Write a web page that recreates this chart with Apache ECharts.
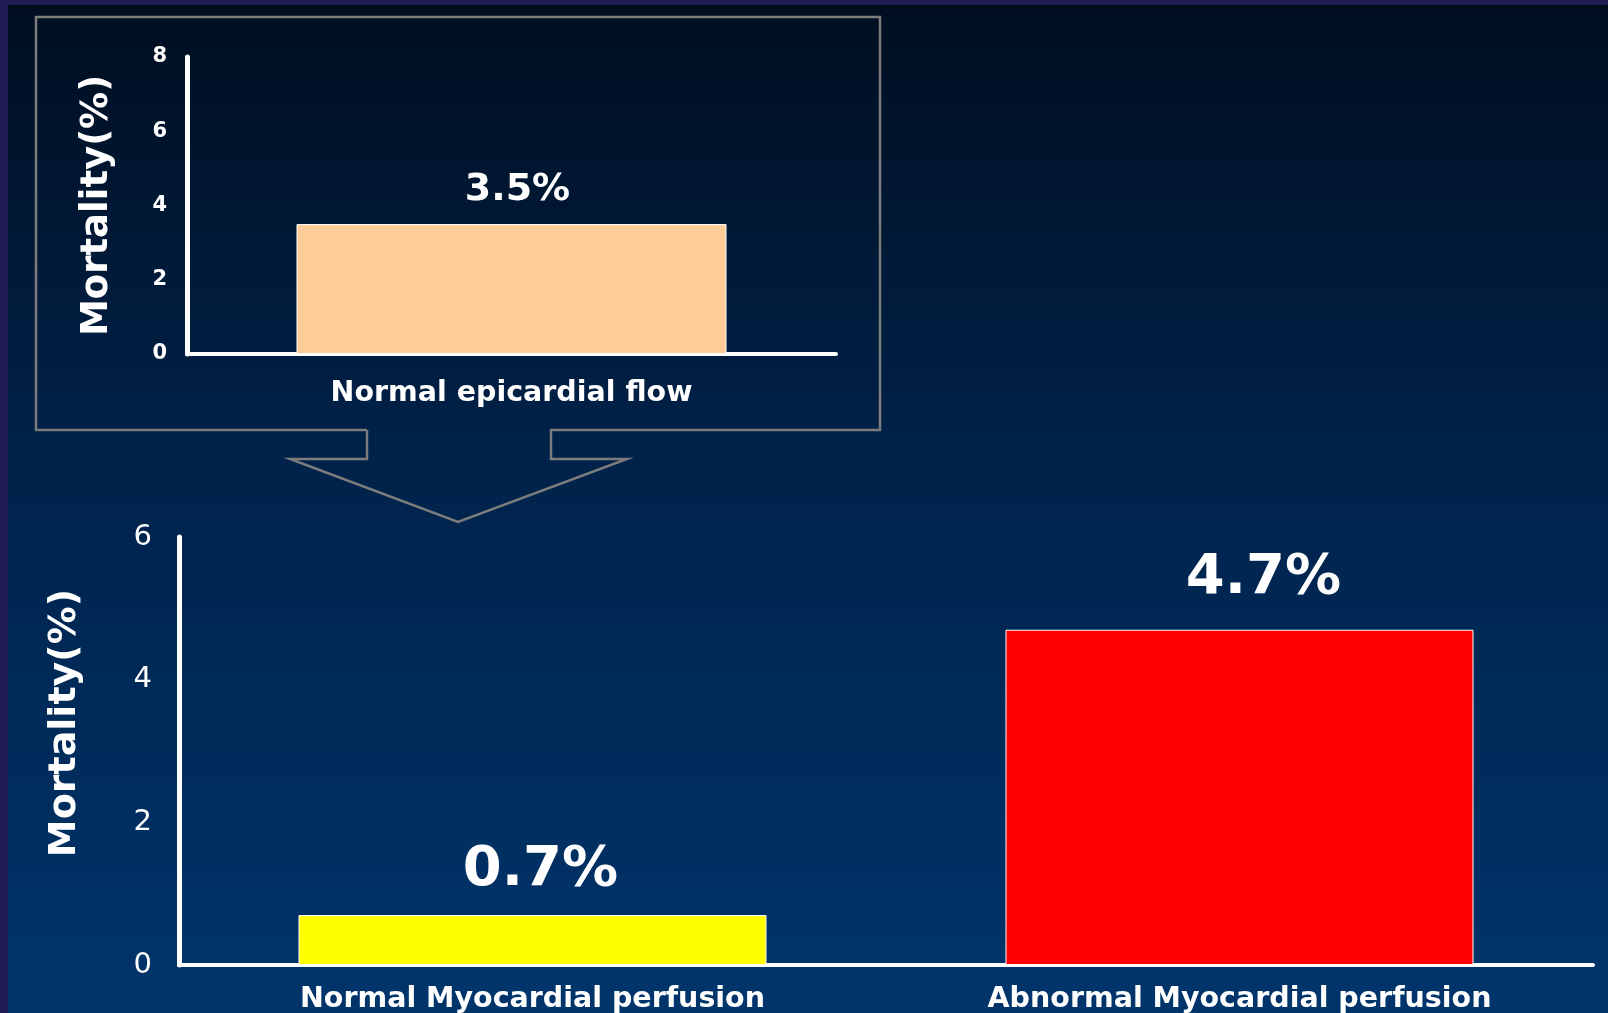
<!DOCTYPE html>
<html>
<head>
<meta charset="utf-8">
<script src="https://cdn.jsdelivr.net/npm/echarts@6/dist/echarts.min.js"></script>
<style>
  html, body { margin: 0; padding: 0; background: #221c55; }
  #chart { width: 1608px; height: 1013px; }
</style>
</head>
<body>
<div id="chart"></div>
<script>
// inset chart (top)
const insetCategories = ['Normal epicardial flow'];
const insetValues = [3.5];
const insetColors = ['#ffcc99'];
const insetTicks = [0, 2, 4, 6, 8];

// main chart (bottom)
const mainCategories = ['Normal Myocardial perfusion', 'Abnormal Myocardial perfusion'];
const mainValues = [0.7, 4.7];
const mainColors = ['#ffff00', '#ff0000'];
const mainTicks = [0, 2, 4, 6];

const yTitle = 'Mortality(%)';
const FONT = 'DejaVu Sans';

const chart = echarts.init(document.getElementById('chart'));

const barData = (values, colors, offsets) => values.map((v, i) => ({
  value: v,
  itemStyle: { color: colors[i] },
  label: { offset: offsets[i] }
}));

const option = {
  backgroundColor: '#221c55',
  animation: false,
  graphic: [
    {
      // slide background
      type: 'rect',
      z: -10,
      shape: { x: 8, y: 5, width: 1600, height: 1008 },
      style: {
        fill: new echarts.graphic.LinearGradient(0, 0, 0, 1, [
          { offset: 0, color: '#000e20' },
          { offset: 0.45, color: '#00224a' },
          { offset: 1, color: '#00356c' }
        ])
      }
    },
    {
      // box round the small chart, with its arrow
      type: 'polyline',
      z: -5,
      shape: {
        points: [[367, 430], [36, 430], [36, 17], [880, 17], [880, 430], [551, 430],
          [551, 459], [627, 459], [458, 522], [290, 459], [367, 459], [367, 430]]
      },
      style: { stroke: '#7c7c7c', lineWidth: 2.5, fill: null }
    }
  ],
  grid: [
    { left: 187, top: 57, right: 772, bottom: 659, outerBoundsMode: 'none' },
    { left: 179, top: 537, right: 15, bottom: 48, outerBoundsMode: 'none' }
  ],
  xAxis: [
    {
      gridIndex: 0,
      type: 'category',
      data: insetCategories,
      axisLine: { lineStyle: { color: '#fff', width: 4 } },
      axisTick: { show: false },
      axisLabel: { color: '#fff', fontFamily: FONT, fontWeight: 'bold', fontSize: 28.5, margin: 25 }
    },
    {
      gridIndex: 1,
      type: 'category',
      data: mainCategories,
      axisLine: { lineStyle: { color: '#fff', width: 4 } },
      axisTick: { show: false },
      axisLabel: { color: '#fff', fontFamily: FONT, fontWeight: 'bold', fontSize: 28.5, margin: 20 }
    }
  ],
  yAxis: [
    {
      gridIndex: 0,
      type: 'value',
      min: insetTicks[0],
      max: insetTicks[insetTicks.length - 1],
      interval: insetTicks[1] - insetTicks[0],
      splitLine: { show: false },
      axisTick: { show: false },
      axisLine: { show: true, lineStyle: { color: '#fff', width: 5, cap: 'round' } },
      axisLabel: { color: '#fff', fontFamily: FONT, fontWeight: 'bold', fontSize: 21, margin: 20 },
      name: yTitle,
      nameLocation: 'middle',
      nameRotate: 90,
      nameGap: 71,
      nameTextStyle: { color: '#fff', fontFamily: FONT, fontWeight: 'bold', fontSize: 37 }
    },
    {
      gridIndex: 1,
      type: 'value',
      min: mainTicks[0],
      max: mainTicks[mainTicks.length - 1],
      interval: mainTicks[1] - mainTicks[0],
      splitLine: { show: false },
      axisTick: { show: false },
      axisLine: { show: true, lineStyle: { color: '#fff', width: 5, cap: 'round' } },
      axisLabel: { color: '#fff', fontFamily: FONT, fontSize: 29, margin: 27 },
      name: yTitle,
      nameLocation: 'middle',
      nameRotate: 90,
      nameGap: 95,
      nameTextStyle: { color: '#fff', fontFamily: FONT, fontWeight: 'bold', fontSize: 38, padding: [0, 0, 0, 56] }
    }
  ],
  series: [
    {
      type: 'bar',
      xAxisIndex: 0,
      yAxisIndex: 0,
      barWidth: 430,
      data: barData(insetValues, insetColors, [[6, 0]]),
      itemStyle: { borderColor: '#ffffff', borderWidth: 1 },
      label: {
        show: true,
        position: 'top',
        distance: 15,
        color: '#fff',
        fontFamily: FONT,
        fontWeight: 'bold',
        fontSize: 38,
        formatter: p => p.value + '%'
      }
    },
    {
      type: 'bar',
      xAxisIndex: 1,
      yAxisIndex: 1,
      barWidth: 468,
      data: barData(mainValues, mainColors, [[8, 3], [24, -3]]),
      itemStyle: { borderColor: '#ffffff', borderWidth: 1 },
      label: {
        show: true,
        position: 'top',
        distance: 20,
        color: '#fff',
        fontFamily: FONT,
        fontWeight: 'bold',
        fontSize: 56,
        formatter: p => p.value + '%'
      }
    }
  ]
};

chart.setOption(option);
</script>
</body>
</html>
